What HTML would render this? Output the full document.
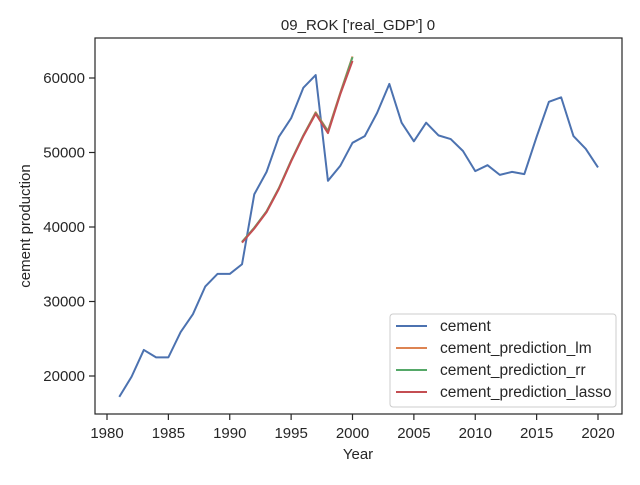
<!DOCTYPE html>
<html><head><meta charset="utf-8"><style>
body{margin:0;background:#fff;font-family:"Liberation Sans","DejaVu Sans",sans-serif}
svg text{font-family:"Liberation Sans","DejaVu Sans",sans-serif;fill:#262626}
</style></head><body>
<svg id="chart" width="640" height="480">
<rect x="0" y="0" width="640" height="480" fill="#fff"/>
<text x="358" y="30" font-size="15" text-anchor="middle">09_ROK ['real_GDP'] 0</text>
<g id="axes"></g>
<g id="series"></g>
<rect x="95" y="38" width="527" height="376" fill="none" stroke="#262626" stroke-width="1.2"/>
<text x="358" y="459" font-size="15" text-anchor="middle">Year</text>
<text transform="translate(30,226) rotate(-90)" font-size="15" text-anchor="middle">cement production</text>
<g id="legend">
<rect x="390" y="314" width="226" height="93" rx="3" fill="#fff" fill-opacity="0.8" stroke="#ccc"/>
</g>
</svg>
<script>
const years=[];for(let y=1981;y<=2020;y++)years.push(y);
const cement=[17200,19900,23500,22500,22500,25900,28300,32000,33700,33700,35000,44400,47400,52100,54600,58700,60400,46200,48200,51300,52200,55300,59200,54000,51500,54000,52300,51800,50200,47500,48300,47000,47400,47100,52100,56800,57400,52200,50500,48000];
const predYears=[1991,1992,1993,1994,1995,1996,1997,1998,1999,2000];
const predLm=[38000,39900,42100,45200,48900,52300,55400,52900,58000,62900];
const predRr=[38000,39900,42100,45200,48900,52300,55300,52800,57900,62800];
const predLasso=[37900,39800,42000,45100,48800,52200,55200,52600,57800,62300];
const xTicks=[1980,1985,1990,1995,2000,2005,2010,2015,2020];
const yTicks=[20000,30000,40000,50000,60000];
const X=v=>107+(v-1980)*12.275;
const Y=v=>376-(v-20000)*0.00745;
const ns="http://www.w3.org/2000/svg";
const ax=document.getElementById('axes'),sg=document.getElementById('series'),lg=document.getElementById('legend');
function mk(t,a,p){const e=document.createElementNS(ns,t);for(const k in a)e.setAttribute(k,a[k]);p.appendChild(e);return e;}
xTicks.forEach(t=>{
const l=mk('line',{x1:X(t),x2:X(t),y1:414,y2:420,stroke:'#262626','stroke-width':1.2},ax);


const tx=mk('text',{x:X(t),y:438,'font-size':15,'text-anchor':'middle'},ax);tx.textContent=t;


});
yTicks.forEach(t=>{
const l=mk('line',{x1:89,x2:95,y1:Y(t),y2:Y(t),stroke:'#262626','stroke-width':1.2},ax);


const tx=mk('text',{x:85,y:Y(t)+5,'font-size':15,'text-anchor':'end'},ax);tx.textContent=t;


});
function line(xs,vs,c,name){
const p=mk('polyline',{points:xs.map((x,i)=>X(x)+','+Y(vs[i])).join(' '),fill:'none',stroke:c,'stroke-width':2,'stroke-linejoin':'round'},sg);


}
line(years,cement,'#4c72b0','cement-line');
line(predYears,predLm,'#dd8452','prediction-lm-line');
line(predYears,predRr,'#55a868','prediction-rr-line');
line(predYears,predLasso,'#c44e52','prediction-lasso-line');
const items=[['cement','#4c72b0'],['cement_prediction_lm','#dd8452'],['cement_prediction_rr','#55a868'],['cement_prediction_lasso','#c44e52']];
items.forEach((it,i)=>{
const y=326+i*22;
const g=mk('g',{},lg);


mk('line',{x1:396,x2:427,y1:y,y2:y,stroke:it[1],'stroke-width':2},g);
const t=mk('text',{x:440,y:y+5,'font-size':15.5},g);t.textContent=it[0];
});
</script>
</body></html>
